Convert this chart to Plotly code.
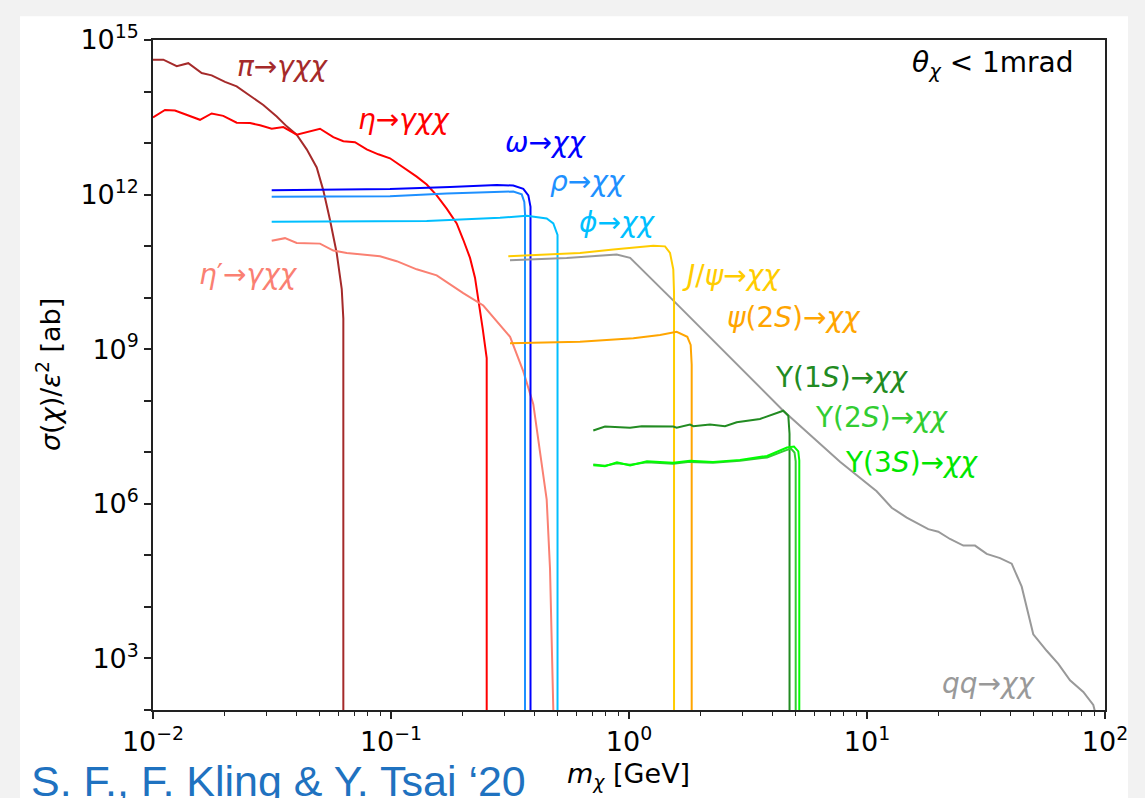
import plotly.graph_objects as go

# ---------------- data (m_chi in GeV, sigma/eps^2 in ab) ----------------
pi_m = [0.0100, 0.01105, 0.01258, 0.01407, 0.01602, 0.01764, 0.02007, 0.02247, 0.02557, 0.02907,
        0.03310, 0.03646, 0.04016, 0.04424, 0.04873, 0.05195, 0.05543, 0.05913, 0.06209, 0.06305, 0.06305]
pi_sigma = [4.16e14, 4.16e14, 3.11e14, 3.55e14, 2.29e14, 2.06e14, 1.54e14, 1.26e14, 8.30e13, 5.48e13,
            3.29e13, 2.11e13, 1.46e13, 7.55e12, 3.37e12, 1.21e12, 3.21e11, 7.38e10, 1.47e10, 3.92e9, 1e1]

eta_m = [0.01000, 0.01123, 0.01237, 0.01407, 0.01576, 0.01764, 0.01973, 0.02247, 0.02557, 0.02817,
         0.03153, 0.03528, 0.04016, 0.05032, 0.05723, 0.06305, 0.07057, 0.07905, 0.08844, 0.09904,
         0.1126, 0.1282, 0.1413, 0.1556, 0.1714, 0.1888, 0.2012, 0.2148, 0.2254, 0.2327, 0.2428, 0.2524, 0.2524]
eta_sigma = [3.15e13, 4.40e13, 4.29e13, 3.44e13, 2.83e13, 3.75e13, 3.37e13, 2.48e13, 2.45e13, 2.21e13,
             1.90e13, 2.05e13, 1.46e13, 1.90e13, 1.30e13, 1.09e13, 1.04e13, 7.55e12, 6.05e12, 5.07e12,
             3.37e12, 2.23e12, 1.57e12, 9.68e11, 5.36e11, 2.77e11, 1.33e11, 5.92e10, 2.45e10, 9.46e9, 2.52e9, 6.73e8, 1e1]

etap_m = [0.03153, 0.03586, 0.04016, 0.05032, 0.05723, 0.06516, 0.08992, 0.1057, 0.1282, 0.1556,
          0.2012, 0.2442, 0.3165, 0.3597, 0.3962, 0.4228, 0.4510, 0.4657, 0.4808]
etap_sigma = [1.27e11, 1.43e11, 1.15e11, 1.12e11, 8.20e10, 7.38e10, 6.37e10, 5.11e10, 3.55e10, 2.72e10,
              1.23e10, 7.05e9, 1.74e9, 3.72e8, 8.59e7, 9.48e6, 1.21e6, 5.55e4, 1e2]

omega_m = [0.03153, 0.06107, 0.09904, 0.1770, 0.2780, 0.3265, 0.3597, 0.3776, 0.3856, 0.3856]
omega_sigma = [1.22e12, 1.25e12, 1.29e12, 1.41e12, 1.54e12, 1.50e12, 1.29e12, 9.68e11, 5.78e11, 1e1]

rho_m = [0.03153, 0.09904, 0.1714, 0.2871, 0.3265, 0.3542, 0.3632, 0.3656, 0.3656]
rho_sigma = [9.10e11, 9.27e11, 1.05e12, 1.12e12, 1.15e12, 1.01e12, 7.19e11, 4.31e11, 1e1]

phi_m = [0.03153, 0.1413, 0.2871, 0.3717, 0.4510, 0.4808, 0.5008, 0.5008]
phi_sigma = [2.99e11, 3.08e11, 3.56e11, 3.88e11, 3.45e11, 2.77e11, 1.66e11, 1e1]

jpsi_m = [0.3111, 0.4510, 0.6223, 0.8590, 1.265, 1.417, 1.487, 1.535, 1.546, 1.546]
jpsi_sigma = [6.38e10, 6.87e10, 7.38e10, 8.57e10, 1.02e11, 9.91e10, 7.38e10, 3.55e10, 1.26e10, 1e1]

psi2s_m = [0.3162, 0.6223, 1.043, 1.350, 1.586, 1.758, 1.816, 1.834, 1.834]
psi2s_sigma = [1.30e9, 1.40e9, 1.63e9, 1.88e9, 2.17e9, 1.74e9, 1.21e9, 5.00e8, 1e1]

ups1s_m = [0.7079, 0.7929, 1.010, 1.131, 1.535, 1.586, 1.804, 1.863, 2.189, 2.532, 2.835, 3.551,
           4.448, 4.670, 4.726, 4.726]
ups1s_sigma = [2.65e7, 3.16e7, 2.99e7, 3.21e7, 3.16e7, 2.99e7, 3.45e7, 3.21e7, 3.45e7, 3.21e7, 3.84e7, 4.44e7,
               6.40e7, 5.13e7, 2.29e7, 1e1]

ups2s_m = [0.7079, 0.7929, 0.8904, 1.010, 1.190, 1.531, 1.804, 2.254, 2.927, 3.802, 4.523, 4.794,
           4.959, 5.016, 5.016]
ups2s_sigma = [5.83e6, 5.47e6, 6.11e6, 5.71e6, 6.38e6, 5.97e6, 6.52e6, 6.24e6, 6.82e6, 7.96e6, 1.08e7, 1.18e7,
               9.93e6, 6.67e6, 1e1]

ups3s_m = [0.7079, 0.7929, 0.8904, 1.010, 1.190, 1.531, 1.804, 2.254, 2.927, 3.802, 4.612, 4.935,
           5.144, 5.194, 5.194]
ups3s_sigma = [5.58e6, 5.35e6, 6.38e6, 5.58e6, 6.67e6, 6.24e6, 6.82e6, 6.52e6, 7.13e6, 8.51e6, 1.24e7, 1.29e7,
               1.04e7, 6.97e6, 1e1]

qq_m = [0.3162, 0.5471, 0.8877, 1.011, 1.586, 4.448, 7.701, 9.346, 10.98, 12.70, 14.69, 18.09, 19.93,
        22.32, 25.39, 28.43, 31.84, 36.22, 40.55, 44.67, 49.96, 56.89, 63.66, 71.29, 81.07, 89.29, 90.78]
qq_sigma = [5.35e10, 5.92e10, 6.87e10, 5.92e10, 7.59e9, 6.40e7, 6.58e6, 3.16e6, 1.75e6, 8.41e5, 5.41e5,
            3.23e5, 2.88e5, 2.08e5, 1.55e5, 1.55e5, 1.07e5, 8.87e4, 6.90e4, 2.47e4, 2.94e3, 1.41e3,
            7.85e2, 3.76e2, 2.24e2, 1.25e2, 93]

x_tickvals = [0.01, 0.1, 1, 10, 100]
x_ticktext = ["10<sup>\u22122</sup>", "10<sup>\u22121</sup>", "10<sup>0</sup>", "10<sup>1</sup>", "10<sup>2</sup>"]
y_tickvals = [10.0 ** k for k in range(2, 16)]
y_ticktext = [("10<sup>%d</sup>" % k if k % 3 == 0 else "") for k in range(2, 16)]
x_minor = [d * 10.0 ** e for e in range(-2, 2) for d in range(2, 10)]

# ---------------- styling ----------------
series = [
    (pi_m, pi_sigma, "#a52a2a"),
    (eta_m, eta_sigma, "#ff0000"),
    (etap_m, etap_sigma, "#fa8072"),
    (omega_m, omega_sigma, "#0000ff"),
    (rho_m, rho_sigma, "#1e90ff"),
    (phi_m, phi_sigma, "#00bfff"),
    (qq_m, qq_sigma, "#999999"),
    (jpsi_m, jpsi_sigma, "#ffcc00"),
    (psi2s_m, psi2s_sigma, "#ffa500"),
    (ups1s_m, ups1s_sigma, "#228b22"),
    (ups2s_m, ups2s_sigma, "#32cd32"),
    (ups3s_m, ups3s_sigma, "#00ff00"),
]

OFF = 8                      # page body margin of the html page
PW, PH = 1145, 798           # page size
L, R, T, B = 153, 1105, 30, 710   # plot area in page pixels


def px(x):
    return (x - L) / (R - L)


def py(y):
    return (B - y) / (B - T)


fig = go.Figure()
for xs, ys, c in series:
    fig.add_trace(go.Scatter(x=xs, y=ys, mode="lines", line=dict(color=c, width=2), showlegend=False,
                             hoverinfo="skip"))

MF = "DejaVu Sans"
labels = [
    ("<i>π</i>→<i>γχχ</i>", "#a52a2a", 235, 57),
    ("<i>η</i>→<i>γχχ</i>", "#ff0000", 356, 111),
    ("<i>ω</i>→<i>χχ</i>", "#0000ff", 503, 134),
    ("<i>ρ</i>→<i>χχ</i>", "#1e90ff", 548, 174),
    ("<i>ϕ</i>→<i>χχ</i>", "#00bfff", 577, 215),
    ("<i>η</i>′→<i>γχχ</i>", "#fa8072", 197, 268),
    ("<i>J</i>/<i>ψ</i>→<i>χχ</i>", "#ffcc00", 680, 269),
    ("<i>ψ</i>(2<i>S</i>)→<i>χχ</i>", "#ffa500", 725, 312),
    ("Υ(1<i>S</i>)→<i>χχ</i>", "#228b22", 773, 373),
    ("Υ(2<i>S</i>)→<i>χχ</i>", "#32cd32", 813, 413),
    ("Υ(3<i>S</i>)→<i>χχ</i>", "#00e600", 843, 459),
    ("<i>qq</i>→<i>χχ</i>", "#999999", 940, 683),
    ("<i>θ</i><sub><i>χ</i></sub> &lt; 1mrad", "#000000", 910, 55),
]
for txt, col, x, y in labels:
    fig.add_annotation(text=txt, x=px(x), y=py(y), xref="paper", yref="paper", showarrow=False,
                       xanchor="left", yanchor="middle", font=dict(family=MF, size=28, color=col))

# axis titles
fig.add_annotation(text="<i>m</i><sub><i>χ</i></sub> [GeV]", x=px(628), y=py(776), xref="paper", yref="paper",
                   showarrow=False, xanchor="center", yanchor="middle",
                   font=dict(family=MF, size=27, color="black"))
fig.add_annotation(text="<i>σ</i>(<i>χ</i>)/<i>ε</i><sup>2</sup> [ab]", x=px(48), y=py(370),
                   xref="paper", yref="paper", showarrow=False, textangle=-90,
                   xanchor="center", yanchor="middle", font=dict(family=MF, size=27, color="black"))

fig.add_annotation(text="S. F., F. Kling &amp; Y. Tsai \u201820", x=px(29), y=py(756), xref="paper", yref="paper",
                   showarrow=False, xanchor="left", yanchor="top",
                   font=dict(family="Liberation Sans, Arial", size=43, color="#1f72c0"))

fig.add_shape(type="rect", xref="paper", yref="paper", x0=px(20), x1=px(1128), y0=py(805), y1=py(6),
              fillcolor="white", line=dict(width=0), layer="below")

axis_common = dict(type="log", showline=True, linecolor="#222222", linewidth=1.6, mirror=True,
                   ticks="outside", ticklen=7, tickwidth=1.5, tickcolor="#222222", showgrid=False,
                   zeroline=False, tickfont=dict(family=MF, size=27, color="black"))

fig.update_layout(
    width=PW - OFF, height=PH - OFF,
    margin=dict(l=L - OFF, r=PW - R, t=T - OFF, b=PH - B),
    paper_bgcolor="#f2f2f2", plot_bgcolor="white",
    xaxis=dict(range=[-2, 2], tickmode="array", tickvals=x_tickvals, ticktext=x_ticktext,
               minor=dict(tickmode="array", tickvals=x_minor, ticks="outside", ticklen=4, tickwidth=1.2,
                          tickcolor="#222222", showgrid=False),
               **axis_common),
    yaxis=dict(range=[2, 15], tickmode="array", tickvals=y_tickvals, ticktext=y_ticktext,
               **axis_common),
)

fig.write_html("out.html", post_script="document.body.style.background='#f2f2f2';")
